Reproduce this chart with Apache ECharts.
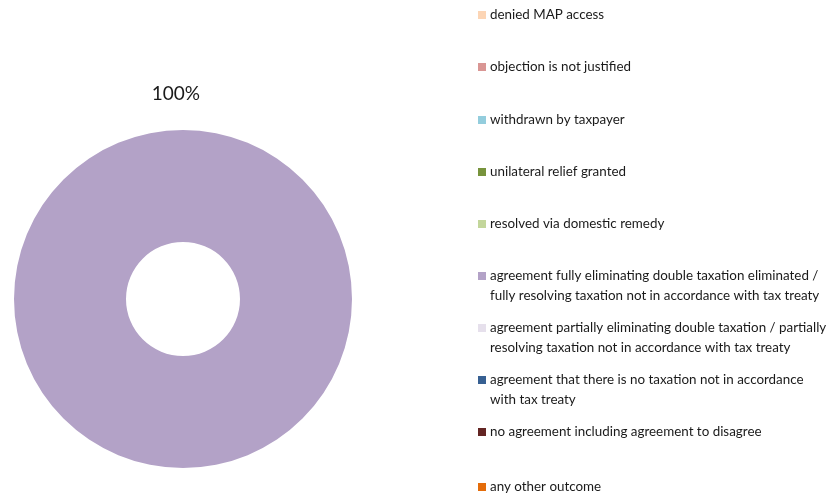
<!DOCTYPE html>
<html>
<head>
<meta charset="utf-8">
<script src="https://cdn.jsdelivr.net/npm/echarts@6/dist/echarts.min.js"></script>
<style>html,body{margin:0;padding:0;background:#fff}#c{width:838px;height:493px}</style>
</head>
<body>
<div id="c"></div>
<script>
const categories = [
  "denied MAP access",
  "objection is not justified",
  "withdrawn by taxpayer",
  "unilateral relief granted",
  "resolved via domestic remedy",
  "agreement fully eliminating double taxation eliminated /\nfully resolving taxation not in accordance with tax treaty",
  "agreement partially eliminating double taxation / partially\nresolving taxation not in accordance with tax treaty",
  "agreement that there is no taxation not in accordance\nwith tax treaty",
  "no agreement including agreement to disagree",
  "any other outcome"
];
const values = [0, 0, 0, 0, 0, 100, 0, 0, 0, 0];
const colors = ["#FCD5B5", "#D99694", "#93CDDD", "#77933C", "#C3D69B", "#B3A2C7", "#E6E0EC", "#376092", "#632523", "#E46C0A"];
const legendCenters = [15, 67, 120, 172, 224, 276, 328, 380, 432, 487];

const font = 'Lato';
const chart = echarts.init(document.getElementById('c'), null, {renderer: 'canvas'});
const legends = categories.map((name, i) => {
  const multi = name.indexOf('\n') >= 0;
  return {
    orient: 'vertical',
    left: 478,
    top: legendCenters[i] - 10,
    padding: 0,
    itemWidth: 8,
    itemHeight: multi ? 28 : 8,
    itemGap: 0,
    icon: multi ? 'path://M0,0L8,0L8,8L0,8Z M0,28L0.01,28L0,28Z' : 'rect',
    selectedMode: false,
    data: [name],
    textStyle: {
      fontFamily: font, fontSize: 13.4, color: '#1a1a1a', lineHeight: 20,
      padding: [0, 0, 0, -1]
    }
  };
});
chart.setOption({
  animation: false,
  color: colors,
  legend: legends,
  series: [{
    type: 'pie',
    center: [183, 299],
    radius: [57, 169],
    startAngle: 270,
    avoidLabelOverlap: false,
    label: {
      show: true,
      position: 'outside',
      fontFamily: font,
      fontSize: 19,
      color: '#1a1a1a',
      formatter: p => p.value > 0 ? Math.round(p.percent) + '%' : ''
    },
    labelLayout: {dx: 22, dy: -1},
    labelLine: {show: false, length: 35, length2: 0},
    itemStyle: {borderWidth: 0},
    data: categories.map((n, i) => ({name: n, value: values[i]}))
  }]
});
</script>
</body>
</html>
